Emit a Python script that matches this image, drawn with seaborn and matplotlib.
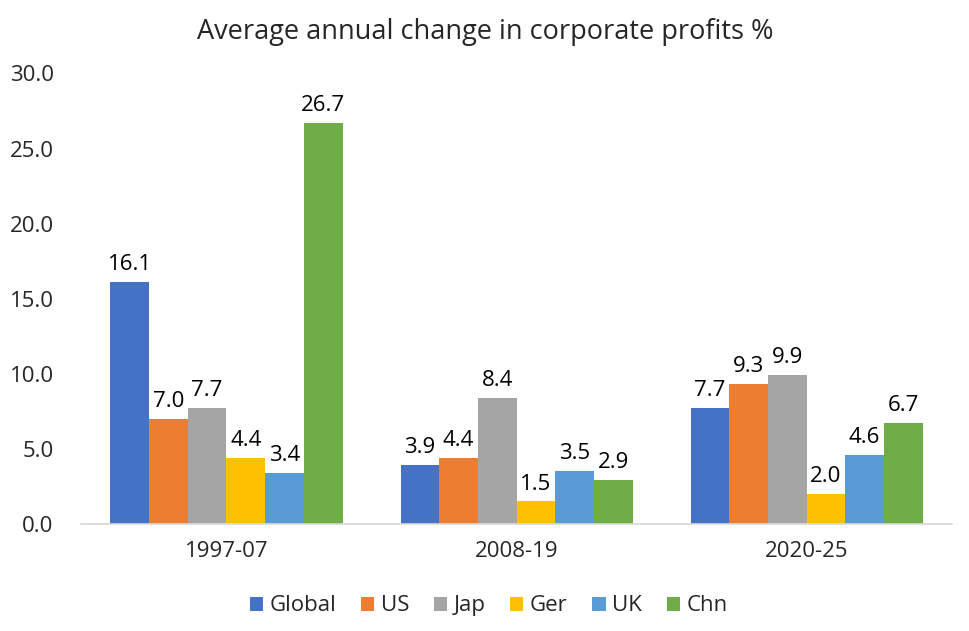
import pandas as pd
import matplotlib.pyplot as plt
import seaborn as sns

periods = ['1997-07', '2008-19', '2020-25']
countries = ['Global', 'US', 'Jap', 'Ger', 'UK', 'Chn']
global_vals = [16.1, 3.9, 7.7]
us_vals = [7.0, 4.4, 9.3]
jap_vals = [7.7, 8.4, 9.9]
ger_vals = [4.4, 1.5, 2.0]
uk_vals = [3.4, 3.5, 4.6]
chn_vals = [26.7, 2.9, 6.7]
colors = ['#4472C4', '#ED7D31', '#A5A5A5', '#FFC000', '#5B9BD5', '#70AD47']

series = [global_vals, us_vals, jap_vals, ger_vals, uk_vals, chn_vals]
rows = []
for name, vals in zip(countries, series):
    for p, v in zip(periods, vals):
        rows.append({'Period': p, 'Country': name, 'Value': v})
df = pd.DataFrame(rows)

sns.set_theme(style="white")
plt.rcParams['font.family'] = ['Open Sans', 'DejaVu Sans']

fig = plt.figure(figsize=(9.7, 6.31), dpi=100)
ax = fig.add_axes([0.084, 0.1696, 0.897, 0.714])
sns.barplot(data=df, x='Period', y='Value', hue='Country', order=periods,
            hue_order=countries, palette=colors, width=0.8, saturation=1,
            errorbar=None, linewidth=0, ax=ax)

for cont in ax.containers:
    ax.bar_label(cont, fmt='%.1f', padding=5, fontsize=16, color='#000000')

ax.set_ylim(0, 30)
ax.set_yticks([0, 5, 10, 15, 20, 25, 30])
ax.set_yticklabels([f'{t:.1f}' for t in [0, 5, 10, 15, 20, 25, 30]], fontsize=16)
ax.tick_params(axis='x', labelsize=16, length=0, pad=12)
ax.tick_params(axis='y', length=0, pad=20)
ax.set_xlabel('')
ax.set_ylabel('')
for s in ['top', 'right', 'left']:
    ax.spines[s].set_visible(False)
ax.spines['bottom'].set_color('#D9D9D9')
ax.set_title('Average annual change in corporate profits %', fontsize=19.5, pad=25, x=0.464)

ax.legend(loc='center', bbox_to_anchor=(0.468, -0.182), ncol=6, frameon=False,
          fontsize=16, handlelength=0.6, handleheight=0.6, handletextpad=0.3,
          columnspacing=1.1)

plt.savefig('out.png', dpi=100)
